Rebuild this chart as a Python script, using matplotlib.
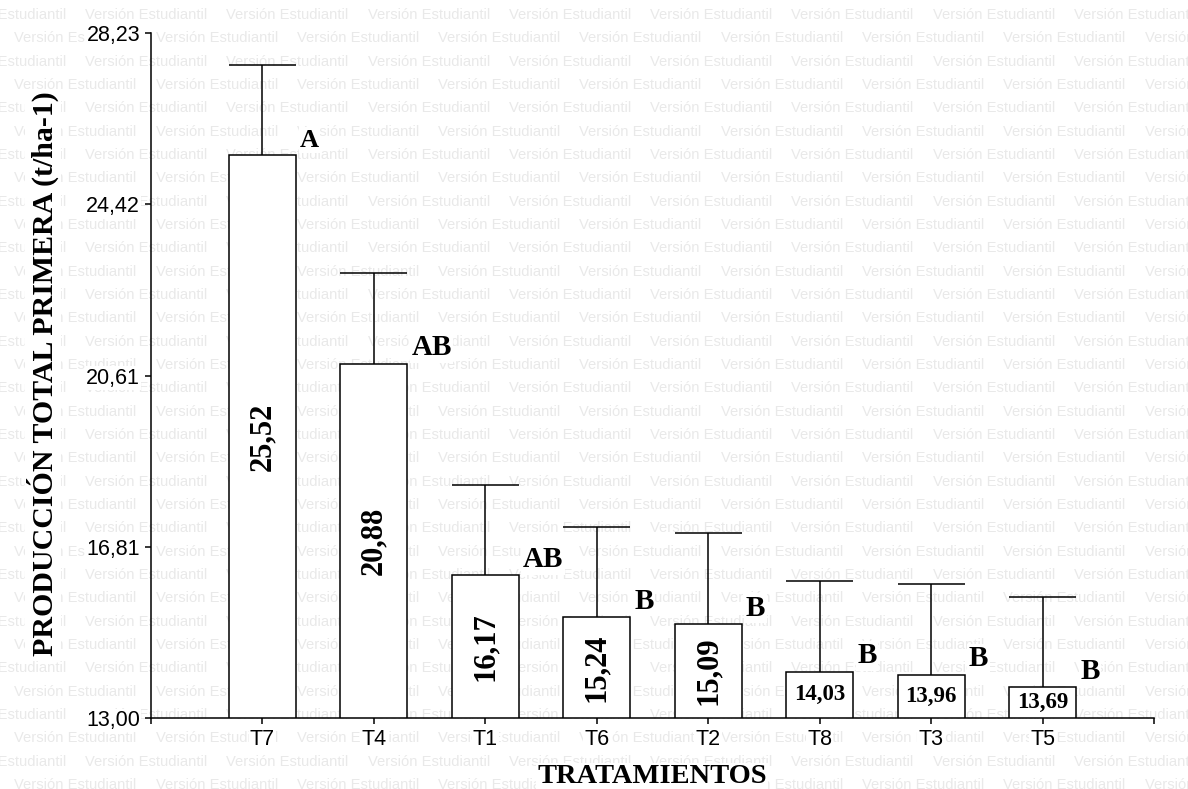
import numpy as np
import matplotlib
matplotlib.use("Agg")
import matplotlib.pyplot as plt

# data
treatments = ["T7", "T4", "T1", "T6", "T2", "T8", "T3", "T5"]
yields = [25.52, 20.88, 16.17, 15.24, 15.09, 14.03, 13.96, 13.69]
errors = [2.00, 2.01, 2.01, 2.01, 2.02, 2.02, 2.02, 2.00]
groups = ["A", "AB", "AB", "B", "B", "B", "B", "B"]
yticks = [13.00, 16.81, 20.61, 24.42, 28.23]
ytick_labels = ["13,00", "16,81", "20,61", "24,42", "28,23"]

YMIN, YMAX = 13.00, 28.23
W, H = 1188, 789
SERIF = "Liberation Serif"
SANS = "Liberation Sans"
WHITE_BOX = dict(facecolor="white", edgecolor="none", pad=1)

fig = plt.figure(figsize=(W / 100, H / 100), dpi=100)
fig.patch.set_facecolor("white")

# "Versión Estudiantil" watermark tiled over the whole page, behind the axes
for k in range(35):
    y = 15 + 23.33 * k
    x0 = 84.9 if k % 2 == 0 else 14.2
    x = x0 - 141.3
    while x < W:
        fig.text(x / W, 1 - y / H, "Versión Estudiantil", fontsize=10.6,
                 family=SANS, color="#e9e9e9", ha="left", va="center", zorder=-5)
        x += 141.3

ax = fig.add_axes([151 / W, 71 / H, 1003 / W, 685 / H])
ax.patch.set_alpha(0)

x = np.arange(1, len(treatments) + 1)
vals = np.array(yields)
errs = np.array(errors)
bw = 0.6

ax.bar(x, vals - YMIN, bottom=YMIN, width=bw, color="white",
       edgecolor="black", linewidth=1.1, zorder=3)
# upper error bars with caps as wide as the bars
ax.vlines(x, vals, vals + errs, color="black", linewidth=1.1, zorder=2)
ax.hlines(vals + errs, x - bw / 2, x + bw / 2, color="black", linewidth=1.1, zorder=2)

for xi, v, g in zip(x, vals, groups):
    mid = (v + YMIN) / 2
    txt = f"{v:.2f}".replace(".", ",")
    if v - YMIN > 1.5:
        ax.text(xi, mid, txt, rotation=90, ha="center", va="center",
                family=SERIF, fontweight="bold", fontsize=22, zorder=4)
    else:
        ax.text(xi, mid, txt, ha="center", va="center",
                family=SERIF, fontweight="bold", fontsize=16.5, zorder=4)
    ax.annotate(g, (xi + bw / 2, v), xytext=(3, 6), textcoords="offset points",
                ha="left", va="baseline", family=SERIF, fontweight="bold",
                fontsize=19 if g == "A" else 21, zorder=4, bbox=WHITE_BOX)

ax.set_xlim(0, len(treatments) + 1)
ax.set_ylim(YMIN, YMAX)
ax.set_xticks(np.arange(0, len(treatments) + 2))
ax.set_xticklabels([""] + treatments + [""], family=SANS, fontsize=15.5)
ax.set_yticks(yticks)
ax.set_yticklabels(ytick_labels, family=SANS, fontsize=15.5)
ax.tick_params(direction="out", length=4.3, width=1.1, pad=3.6)
for lab in ax.get_xticklabels() + ax.get_yticklabels():
    if lab.get_text():
        lab.set_bbox(WHITE_BOX)

for s in ["top", "right"]:
    ax.spines[s].set_visible(False)
for s in ["left", "bottom"]:
    ax.spines[s].set_linewidth(1.1)

fig.text(43 / W, 1 - 374 / H, "PRODUCCIÓN TOTAL PRIMERA (t/ha-1)", rotation=90,
         ha="center", va="center", family=SERIF, fontweight="bold", fontsize=21.5,
         bbox=WHITE_BOX)
fig.text(652 / W, 1 - 783 / H, "TRATAMIENTOS", ha="center", va="baseline",
         family=SERIF, fontweight="bold", fontsize=20.5, bbox=WHITE_BOX)

fig.savefig("out.png", dpi=100)
